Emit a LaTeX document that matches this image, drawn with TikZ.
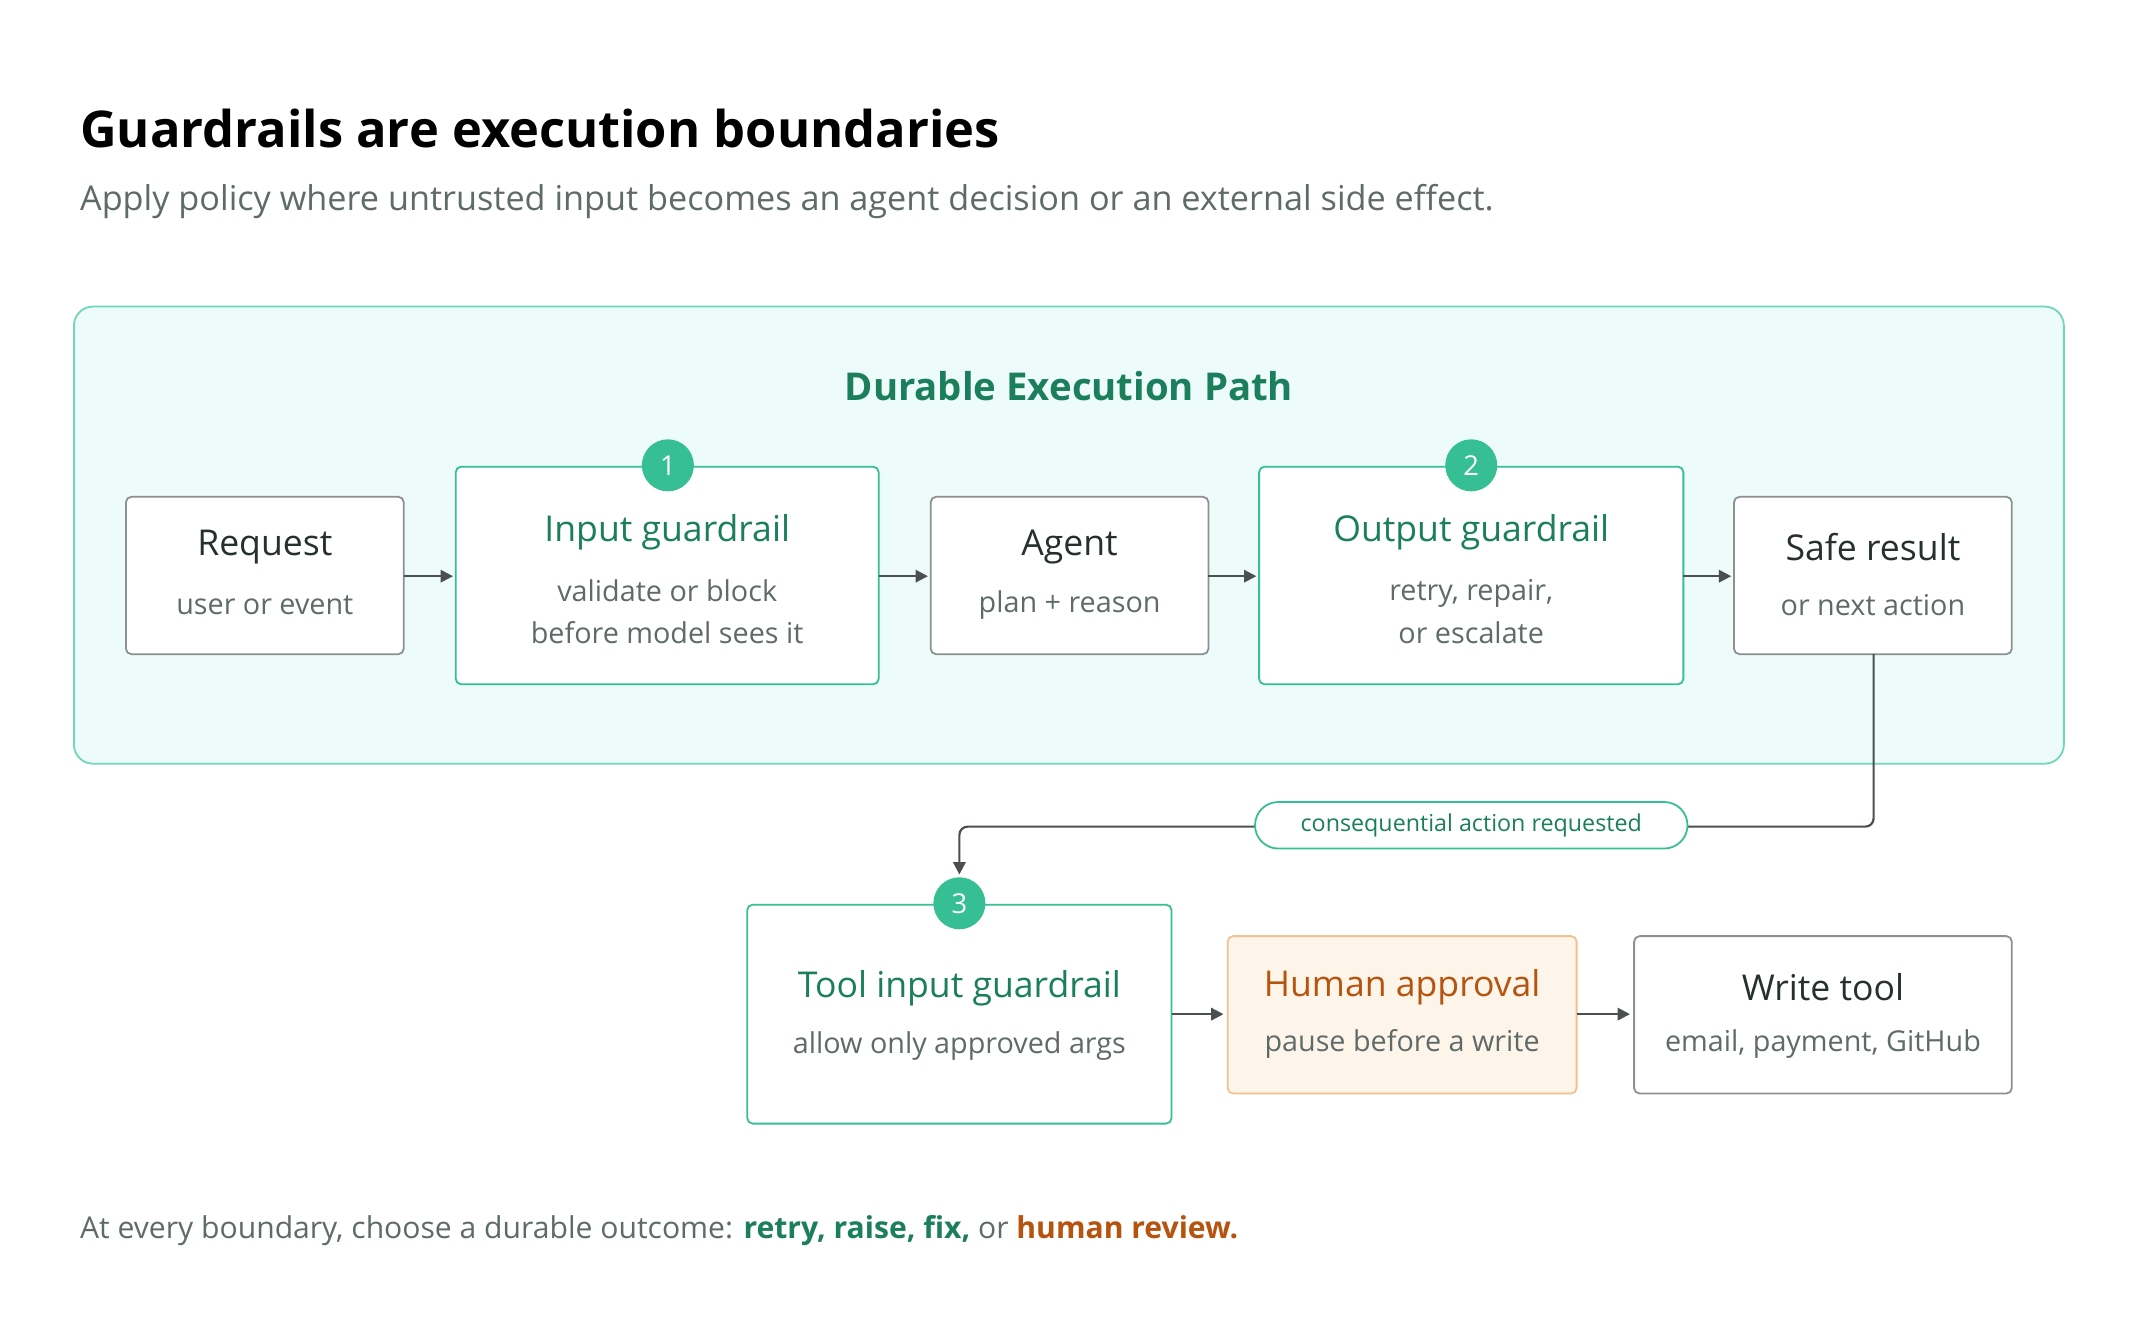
\documentclass[tikz,border=0pt]{standalone}
\usepackage{fontspec}
\setmainfont{Open Sans}
\usetikzlibrary{arrows.meta}
\definecolor{grn}{HTML}{1A7F5A}
\definecolor{badge}{HTML}{35BF92}
\definecolor{tealstroke}{HTML}{6FD6B6}
\definecolor{panel}{HTML}{EEFBFB}
\definecolor{gtxt}{HTML}{5F6B68}
\definecolor{dark}{HTML}{26302E}
\definecolor{gbord}{HTML}{8C918F}
\definecolor{org}{HTML}{B5540F}
\definecolor{orgfill}{HTML}{FEF5EA}
\definecolor{orgbord}{HTML}{F3C08F}
\definecolor{line}{HTML}{4A504E}
\definecolor{shd}{HTML}{E3E8E7}
\begin{document}
\begin{tikzpicture}[x=1pt,y=-1pt,
  box/.style={draw=gbord,line width=1.3pt,fill=white,rounded corners=4pt},
  gbox/.style={box,draw=badge},
  ttl/.style={font=\fontsize{26}{30}\selectfont,text=dark},
  gttl/.style={font=\fontsize{26}{30}\selectfont,text=grn},
  sub/.style={font=\fontsize{21}{31}\selectfont,text=gtxt,align=center},
  bdg/.style={circle,fill=badge,minimum size=38pt,inner sep=0pt,text=white,font=\fontsize{20}{22}\selectfont},
  arr/.style={draw=line,line width=1.6pt,-{Triangle[length=9pt,width=9pt]}}]
\useasboundingbox (0,0) rectangle (1560,980);
\fill[white] (0,0) rectangle (1560,980);
\node[anchor=base west,font=\fontsize{37}{40}\selectfont\bfseries,text=black] (title) at (55,108) {Guardrails are execution boundaries};
\node[anchor=base west,font=\fontsize{25}{28}\selectfont,text=gtxt] (subt) at (55,154) {Apply policy where untrusted input becomes an agent decision or an external side effect.};
\draw[draw=tealstroke,line width=1.3pt,fill=panel,rounded corners=14pt] (54,224) rectangle (1508,558);
\node[font=\fontsize{28}{30}\selectfont\bfseries,text=grn] (dep) at (781,282) {Durable Execution Path};
% boxes
\path[box] (92,363) rectangle (295,478);
\node[ttl] at (193.5,400) {Request}; \node[sub] at (193.5,442) {user or event};
\path[gbox] (333,341) rectangle (642,500);
\node[gttl] at (487.5,389) {Input guardrail};
\node[sub] at (487.5,447) {validate or block\\before model sees it};
\node[bdg] at (488,340) {1};
\path[box] (680,363) rectangle (883,478);
\node[ttl] at (781.5,400) {Agent}; \node[sub] at (781.5,442) {plan + reason};
\path[gbox] (920,341) rectangle (1230,500);
\node[gttl] at (1075,389) {Output guardrail};
\node[sub] at (1075,447) {retry, repair,\\or escalate};
\node[bdg] at (1075,340) {2};
\path[box] (1267,363) rectangle (1470,478);
\node[ttl] at (1368.5,400) {Safe result}; \node[sub] at (1368.5,442) {or next action};
\draw[arr] (295,421) -- (331,421);
\draw[arr] (642,421) -- (678,421);
\draw[arr] (883,421) -- (918,421);
\draw[arr] (1230,421) -- (1265,421);
% lower
\coordinate (srb) at (1369,478);
\coordinate (tgt) at (701,639);
\draw[arr,rounded corners=6pt] (srb) -- (1369,604) -- (701,604) -- (tgt);
\node[draw=badge,line width=1.3pt,fill=white,rounded corners=17pt,minimum width=316pt,minimum height=34pt,font=\fontsize{17}{20}\selectfont,text=grn] (pill) at (1075,603) {consequential action requested};
\path[gbox] (546,661) rectangle (856,821);
\node[gttl] at (701,722) {Tool input guardrail};
\node[sub] at (701,764) {allow only approved args};
\node[bdg] at (701,660) {3};
\path[box,draw=orgbord,fill=orgfill] (897,684) rectangle (1152,799);
\node[font=\fontsize{26}{30}\selectfont,text=org] at (1024.5,721) {Human approval};
\node[sub] at (1024.5,763) {pause before a write};
\path[box] (1194,684) rectangle (1470,799);
\node[ttl] at (1332,721) {Write tool}; \node[sub] at (1332,763) {email, payment, GitHub};
\draw[arr] (856,741) -- (894,741);
\draw[arr] (1152,741) -- (1191,741);
\node[anchor=base west,font=\fontsize{22}{26}\selectfont,text=gtxt] (foot) at (55,905) {At every boundary, choose a durable outcome: \textcolor{grn}{\bfseries retry, raise, fix,} or \textcolor{org}{\bfseries human review.}};
\end{tikzpicture}
\end{document}
